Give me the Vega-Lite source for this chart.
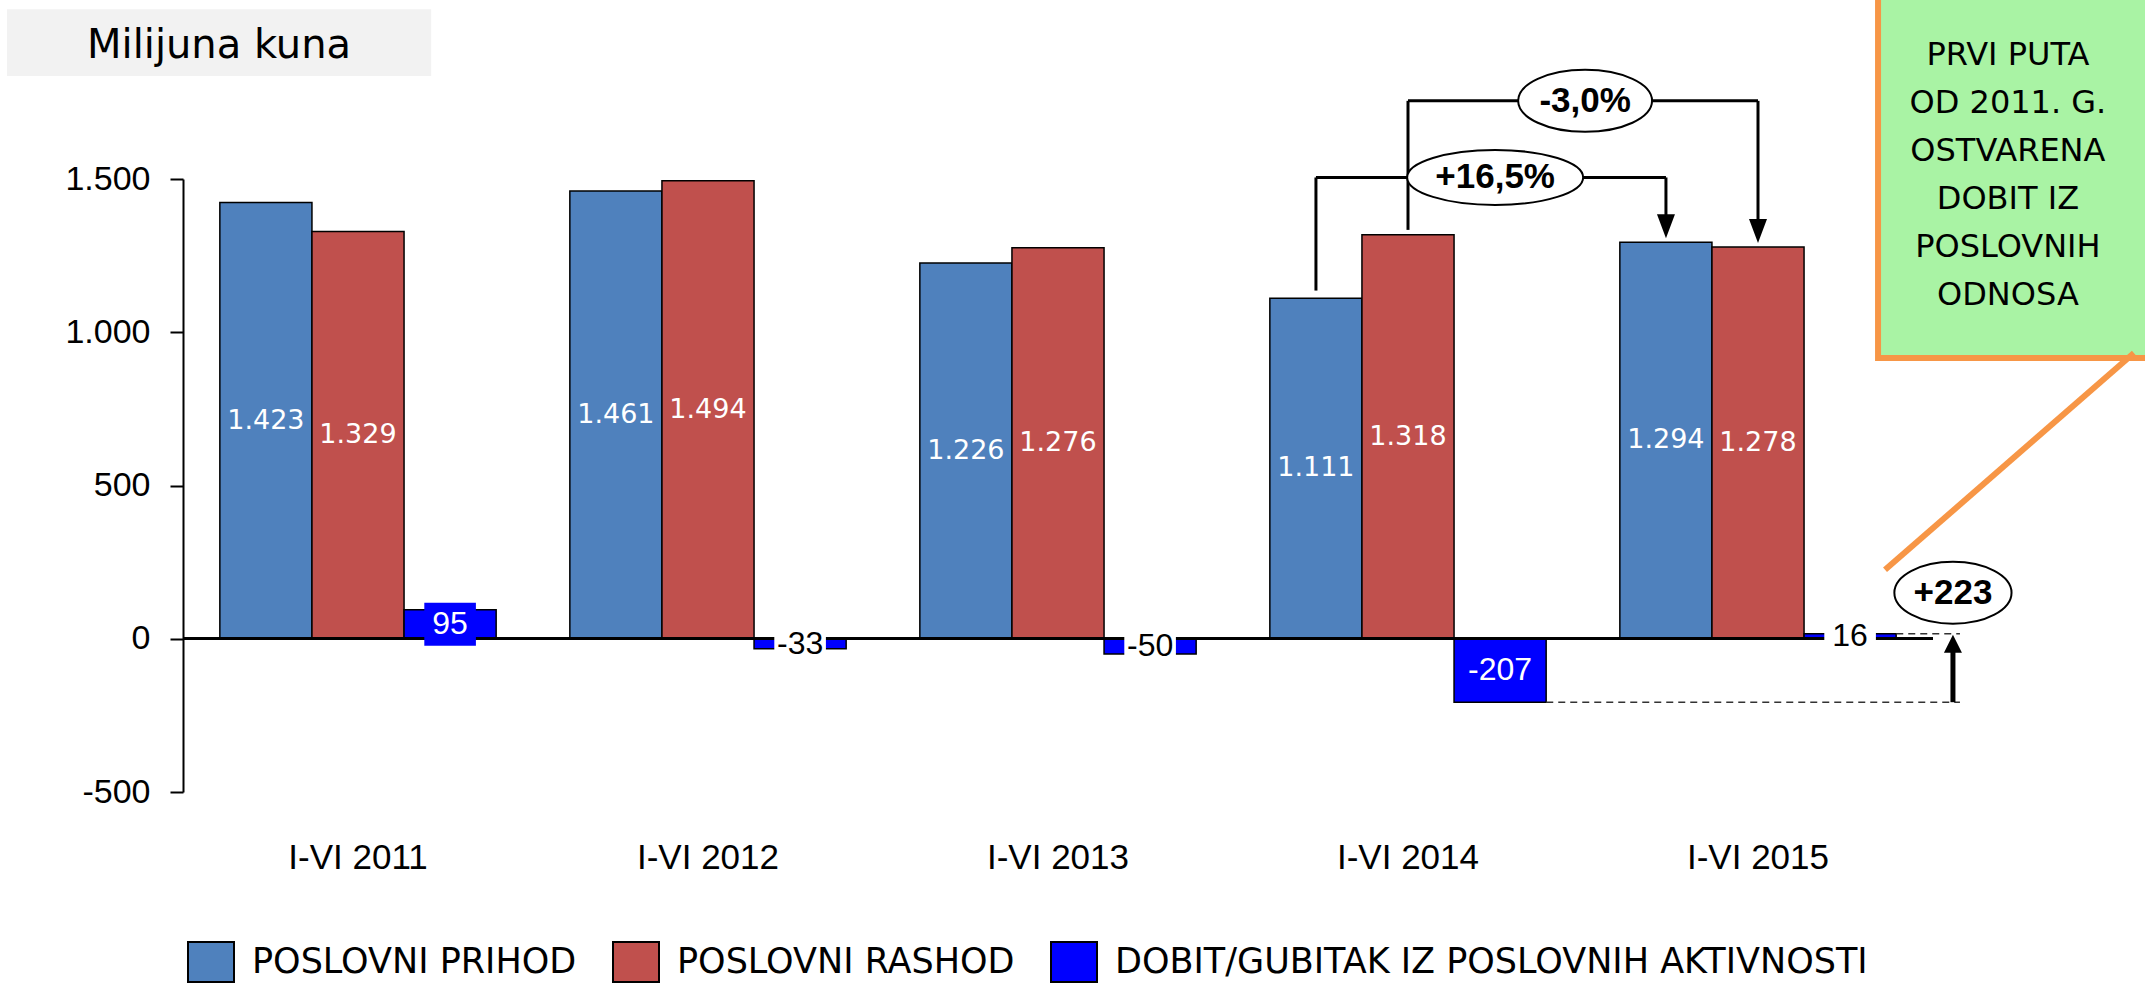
{
  "$schema": "https://vega.github.io/schema/vega-lite/v6.json",
  "width": 1750,
  "height": 613,
  "autosize": {"type": "none"},
  "padding": {"left": 183, "top": 179, "right": 212, "bottom": 193},
  "background": "white",
  "config": {
    "view": {"stroke": null},
    "locale": {"number": {"decimal": ",", "thousands": ".", "grouping": [3], "currency": ["", " kn"], "minus": "-"}}
  },
  "datasets": {
    "bars": [
      {"year": "I-VI 2011", "series": "POSLOVNI PRIHOD", "value": 1423},
      {"year": "I-VI 2011", "series": "POSLOVNI RASHOD", "value": 1329},
      {"year": "I-VI 2011", "series": "DOBIT/GUBITAK IZ POSLOVNIH AKTIVNOSTI", "value": 95},
      {"year": "I-VI 2012", "series": "POSLOVNI PRIHOD", "value": 1461},
      {"year": "I-VI 2012", "series": "POSLOVNI RASHOD", "value": 1494},
      {"year": "I-VI 2012", "series": "DOBIT/GUBITAK IZ POSLOVNIH AKTIVNOSTI", "value": -33},
      {"year": "I-VI 2013", "series": "POSLOVNI PRIHOD", "value": 1226},
      {"year": "I-VI 2013", "series": "POSLOVNI RASHOD", "value": 1276},
      {"year": "I-VI 2013", "series": "DOBIT/GUBITAK IZ POSLOVNIH AKTIVNOSTI", "value": -50},
      {"year": "I-VI 2014", "series": "POSLOVNI PRIHOD", "value": 1111},
      {"year": "I-VI 2014", "series": "POSLOVNI RASHOD", "value": 1318},
      {"year": "I-VI 2014", "series": "DOBIT/GUBITAK IZ POSLOVNIH AKTIVNOSTI", "value": -207},
      {"year": "I-VI 2015", "series": "POSLOVNI PRIHOD", "value": 1294},
      {"year": "I-VI 2015", "series": "POSLOVNI RASHOD", "value": 1278},
      {"year": "I-VI 2015", "series": "DOBIT/GUBITAK IZ POSLOVNIH AKTIVNOSTI", "value": 16}
    ],
    "segments": [
      {"kind": "bracket", "x": 2.737, "x2": 2.737, "y": 1136, "y2": 1505},
      {"kind": "bracket", "x": 2.737, "x2": 3.737, "y": 1505, "y2": 1505},
      {"kind": "bracket", "x": 3.737, "x2": 3.737, "y": 1505, "y2": 1346},
      {"kind": "bracket", "x": 3.0, "x2": 3.0, "y": 1334, "y2": 1755},
      {"kind": "bracket", "x": 3.0, "x2": 4.0, "y": 1755, "y2": 1755},
      {"kind": "bracket", "x": 4.0, "x2": 4.0, "y": 1755, "y2": 1330},
      {"kind": "dashed", "x": 3.395, "x2": 4.577, "y": -207, "y2": -207},
      {"kind": "dashed", "x": 4.395, "x2": 4.577, "y": 16, "y2": 16},
      {"kind": "thick", "x": 4.557, "x2": 4.557, "y": -207, "y2": -16},
      {"kind": "callout", "x": 4.363, "x2": 5.074, "y": 225, "y2": 932}
    ]
  },
  "resolve": {"scale": {"x": "independent", "y": "independent"}},
  "layer": [
    {
      "data": {"name": "bars"},
      "layer": [
        {
          "mark": {"type": "bar", "stroke": "black", "strokeWidth": 1.5},
          "encoding": {
            "x": {"field": "year", "type": "nominal",
              "scale": {"domain": ["I-VI 2011", "I-VI 2012", "I-VI 2013", "I-VI 2014", "I-VI 2015"], "paddingInner": 0, "paddingOuter": 0},
              "axis": {"title": null, "domain": false, "ticks": false, "tickSize": 0, "labelAngle": 0, "labelFont": "Liberation Sans", "labelFontSize": 35, "labelColor": "black", "labelPadding": 48}},
            "xOffset": {"field": "series", "type": "nominal",
              "scale": {"domain": ["POSLOVNI PRIHOD", "POSLOVNI RASHOD", "DOBIT/GUBITAK IZ POSLOVNIH AKTIVNOSTI"], "paddingInner": 0, "paddingOuter": 0.4}},
            "y": {"field": "value", "type": "quantitative",
              "scale": {"domain": [-500, 1500], "nice": false, "zero": false},
              "axis": {"title": null, "values": [-500, 0, 500, 1000, 1500], "format": ",.0f", "grid": false, "domainColor": "black", "domainWidth": 2, "tickColor": "black", "tickWidth": 2, "tickSize": 13, "labelFont": "Liberation Sans", "labelFontSize": 34, "labelColor": "black", "labelPadding": 20}},
            "color": {"field": "series", "type": "nominal",
              "scale": {"domain": ["POSLOVNI PRIHOD", "POSLOVNI RASHOD", "DOBIT/GUBITAK IZ POSLOVNIH AKTIVNOSTI"], "range": ["#4F81BD", "#C0504D", "#0000FF"]},
              "legend": {"title": null, "orient": "none", "legendX": 7, "legendY": 762, "direction": "horizontal", "symbolType": "M-1.15,-1H1.15V1H-1.15Z", "symbolSize": 1600, "symbolStrokeColor": "black", "symbolStrokeWidth": 2, "symbolOpacity": 1, "labelFont": "DejaVu Sans", "labelFontSize": 35, "labelColor": "black", "labelOffset": 20, "columnPadding": 32, "padding": 0, "labelLimit": 1000}}
          }
        },
        {"mark": {"type": "rule", "color": "black", "strokeWidth": 2}, "encoding": {"y": {"datum": 0}}}
      ]
    },
    {
      "data": {"name": "bars"},
      "encoding": {
        "x": {"field": "year", "type": "nominal",
          "scale": {"domain": ["I-VI 2011", "I-VI 2012", "I-VI 2013", "I-VI 2014", "I-VI 2015"], "paddingInner": 0, "paddingOuter": 0}, "axis": null},
        "xOffset": {"field": "series", "type": "nominal",
          "scale": {"domain": ["POSLOVNI PRIHOD", "POSLOVNI RASHOD", "DOBIT/GUBITAK IZ POSLOVNIH AKTIVNOSTI"], "paddingInner": 0, "paddingOuter": 0.4}},
        "y": {"field": "value", "type": "quantitative", "scale": {"domain": [-1000, 3000], "nice": false, "zero": false}, "axis": null}
      },
      "layer": [
        {
          "transform": [{"filter": "datum.series == 'DOBIT/GUBITAK IZ POSLOVNIH AKTIVNOSTI' && datum.value != -207"}],
          "mark": {"type": "point", "shape": "M-1.2,-1H1.2V1H-1.2Z", "size": 1849, "filled": true, "opacity": 1, "strokeWidth": 0},
          "encoding": {"fill": {"condition": {"test": "datum.value > 50", "value": "#0000FF"}, "value": "white"}}
        },
        {
          "transform": [{"filter": "datum.series != 'DOBIT/GUBITAK IZ POSLOVNIH AKTIVNOSTI'"}],
          "mark": {"type": "text", "font": "DejaVu Sans", "fontSize": 27, "fill": "white", "baseline": "middle", "align": "center"},
          "encoding": {"text": {"field": "value", "type": "quantitative", "format": ","}}
        },
        {
          "transform": [{"filter": "datum.series == 'DOBIT/GUBITAK IZ POSLOVNIH AKTIVNOSTI'"}],
          "mark": {"type": "text", "font": "Liberation Sans", "fontSize": 32, "baseline": "middle", "align": "center"},
          "encoding": {
            "text": {"field": "value", "type": "quantitative", "format": ","},
            "fill": {"condition": {"test": "datum.value > 50 || datum.value < -100", "value": "white"}, "value": "black"}
          }
        }
      ]
    },
    {
      "layer": [
        {
          "data": {"values": [{"x": -1.003, "x2": 0.209, "y": 1836, "y2": 2054}]},
          "mark": {"type": "rect", "fill": "#F2F2F2"},
          "encoding": {
            "x": {"field": "x", "type": "quantitative", "scale": {"domain": [-0.5, 4.5], "nice": false, "zero": false}, "axis": null},
            "x2": {"field": "x2"},
            "y": {"field": "y", "type": "quantitative", "scale": {"domain": [-500, 1500], "nice": false, "zero": false}, "axis": null},
            "y2": {"field": "y2"}
          }
        },
        {
          "data": {"values": [{"x": -0.397, "y": 1934, "label": "Milijuna kuna"}]},
          "mark": {"type": "text", "font": "DejaVu Sans", "fontSize": 40, "color": "black", "baseline": "middle", "align": "center"},
          "encoding": {
            "x": {"field": "x", "type": "quantitative", "axis": null},
            "y": {"field": "y", "type": "quantitative", "axis": null},
            "text": {"field": "label"}
          }
        },
        {
          "data": {"name": "segments"},
          "transform": [{"filter": "datum.kind == 'bracket'"}],
          "mark": {"type": "rule", "color": "black", "strokeWidth": 3},
          "encoding": {
            "x": {"field": "x", "type": "quantitative", "axis": null}, "x2": {"field": "x2"},
            "y": {"field": "y", "type": "quantitative", "axis": null}, "y2": {"field": "y2"}
          }
        },
        {
          "data": {"name": "segments"},
          "transform": [{"filter": "datum.kind == 'dashed'"}],
          "mark": {"type": "rule", "color": "#333333", "strokeWidth": 1.5, "strokeDash": [7, 5]},
          "encoding": {
            "x": {"field": "x", "type": "quantitative", "axis": null}, "x2": {"field": "x2"},
            "y": {"field": "y", "type": "quantitative", "axis": null}, "y2": {"field": "y2"}
          }
        },
        {
          "data": {"name": "segments"},
          "transform": [{"filter": "datum.kind == 'thick'"}],
          "mark": {"type": "rule", "color": "black", "strokeWidth": 5},
          "encoding": {
            "x": {"field": "x", "type": "quantitative", "axis": null}, "x2": {"field": "x2"},
            "y": {"field": "y", "type": "quantitative", "axis": null}, "y2": {"field": "y2"}
          }
        },
        {
          "data": {"values": [{"x": 3.737, "y": 1346}, {"x": 4.0, "y": 1330}]},
          "mark": {"type": "point", "shape": "M-0.75,-1L0.75,-1L0,1Z", "size": 576, "filled": true, "color": "black", "opacity": 1},
          "encoding": {
            "x": {"field": "x", "type": "quantitative", "axis": null},
            "y": {"field": "y", "type": "quantitative", "axis": null}
          }
        },
        {
          "data": {"values": [{"x": 4.557, "y": -16}]},
          "mark": {"type": "point", "shape": "M0,-1L1,1L-1,1Z", "size": 324, "filled": true, "color": "black", "opacity": 1},
          "encoding": {
            "x": {"field": "x", "type": "quantitative", "axis": null},
            "y": {"field": "y", "type": "quantitative", "axis": null}
          }
        },
        {
          "data": {"values": [{"x": 3.249, "y": 1505}]},
          "mark": {"type": "point", "shape": "M-3.2,0C-3.2,-0.552,-1.767,-1,0,-1C1.767,-1,3.2,-0.552,3.2,0C3.2,0.552,1.767,1,0,1C-1.767,1,-3.2,0.552,-3.2,0Z", "size": 3025, "filled": true, "fill": "white", "stroke": "black", "strokeWidth": 2, "opacity": 1},
          "encoding": {
            "x": {"field": "x", "type": "quantitative", "axis": null},
            "y": {"field": "y", "type": "quantitative", "axis": null}
          }
        },
        {
          "data": {"values": [{"x": 3.506, "y": 1755}]},
          "mark": {"type": "point", "shape": "M-2.16,0C-2.16,-0.552,-1.193,-1,0,-1C1.193,-1,2.16,-0.552,2.16,0C2.16,0.552,1.193,1,0,1C-1.193,1,-2.16,0.552,-2.16,0Z", "size": 3844, "filled": true, "fill": "white", "stroke": "black", "strokeWidth": 2, "opacity": 1},
          "encoding": {
            "x": {"field": "x", "type": "quantitative", "axis": null},
            "y": {"field": "y", "type": "quantitative", "axis": null}
          }
        },
        {
          "data": {"values": [{"x": 4.557, "y": 150}]},
          "mark": {"type": "point", "shape": "M-1.89,0C-1.89,-0.552,-1.044,-1,0,-1C1.044,-1,1.89,-0.552,1.89,0C1.89,0.552,1.044,1,0,1C-1.044,1,-1.89,0.552,-1.89,0Z", "size": 3844, "filled": true, "fill": "white", "stroke": "black", "strokeWidth": 2, "opacity": 1},
          "encoding": {
            "x": {"field": "x", "type": "quantitative", "axis": null},
            "y": {"field": "y", "type": "quantitative", "axis": null}
          }
        },
        {
          "data": {"values": [{"x": 3.249, "y": 1505, "label": "+16,5%"}, {"x": 3.506, "y": 1755, "label": "-3,0%"}, {"x": 4.557, "y": 150, "label": "+223"}]},
          "mark": {"type": "text", "font": "Liberation Sans", "fontWeight": "bold", "fontSize": 35, "color": "black", "baseline": "middle", "align": "center"},
          "encoding": {
            "x": {"field": "x", "type": "quantitative", "axis": null},
            "y": {"field": "y", "type": "quantitative", "axis": null},
            "text": {"field": "label"}
          }
        },
        {
          "data": {"values": [{"x": 4.343, "x2": 5.9, "y": 916, "y2": 2300}]},
          "mark": {"type": "rect", "fill": "#A9F3A4", "stroke": "#F79646", "strokeWidth": 6},
          "encoding": {
            "x": {"field": "x", "type": "quantitative", "axis": null}, "x2": {"field": "x2"},
            "y": {"field": "y", "type": "quantitative", "axis": null}, "y2": {"field": "y2"}
          }
        },
        {
          "data": {"name": "segments"},
          "transform": [{"filter": "datum.kind == 'callout'"}],
          "mark": {"type": "rule", "color": "#F79646", "strokeWidth": 6},
          "encoding": {
            "x": {"field": "x", "type": "quantitative", "axis": null}, "x2": {"field": "x2"},
            "y": {"field": "y", "type": "quantitative", "axis": null}, "y2": {"field": "y2"}
          }
        },
        {
          "data": {"values": [
            {"x": 4.714, "y": 1904, "label": "PRVI PUTA"},
            {"x": 4.714, "y": 1747, "label": "OD 2011. G."},
            {"x": 4.714, "y": 1590, "label": "OSTVARENA"},
            {"x": 4.714, "y": 1434, "label": "DOBIT IZ"},
            {"x": 4.714, "y": 1277, "label": "POSLOVNIH"},
            {"x": 4.714, "y": 1121, "label": "ODNOSA"}
          ]},
          "mark": {"type": "text", "font": "DejaVu Sans", "fontSize": 32, "color": "black", "baseline": "middle", "align": "center"},
          "encoding": {
            "x": {"field": "x", "type": "quantitative", "axis": null},
            "y": {"field": "y", "type": "quantitative", "axis": null},
            "text": {"field": "label"}
          }
        }
      ]
    }
  ]
}
